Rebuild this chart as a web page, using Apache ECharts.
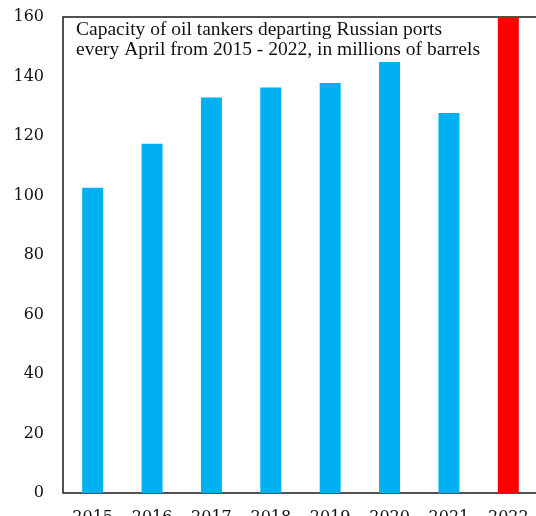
<!DOCTYPE html>
<html>
<head>
<meta charset="utf-8">
<script src="https://cdn.jsdelivr.net/npm/echarts@6/dist/echarts.min.js"></script>
<style>html,body{margin:0;padding:0;background:#fff;}#c{width:536px;height:516px;}</style>
</head>
<body>
<div id="c"></div>
<script>
var years = ['2015', '2016', '2017', '2018', '2019', '2020', '2021', '2022'];
var capacity = [102.6, 117.4, 132.9, 136.3, 137.8, 144.9, 127.7, 175];
var barColors = ['#00B0F0', '#00B0F0', '#00B0F0', '#00B0F0', '#00B0F0', '#00B0F0', '#00B0F0', '#FF0000'];
var noteLines = ['Capacity of oil tankers departing Russian ports', 'every April from 2015 - 2022, in millions of barrels'];

var chart = echarts.init(document.getElementById('c'), null, {renderer: 'canvas'});
chart.setOption({
  backgroundColor: '#ffffff',
  animation: false,
  grid: {
    left: 63, top: 17, width: 475, bottom: 23,
    containLabel: false, outerBoundsMode: 'none',
    show: true, borderColor: '#1a1a1a', borderWidth: 1.5, backgroundColor: 'transparent'
  },
  xAxis: {
    type: 'category',
    data: years,
    axisLine: {show: false},
    axisTick: {show: false},
    axisLabel: {color: '#111', fontFamily: 'DejaVu Serif', fontSize: 16, margin: 17, interval: 0}
  },
  yAxis: {
    type: 'value',
    min: 0, max: 160, interval: 20,
    axisLine: {show: false},
    axisTick: {show: false},
    splitLine: {show: false},
    axisLabel: {color: '#111', fontFamily: 'DejaVu Serif', fontSize: 16, margin: 19, padding: [4, 0, 0, 0]}
  },
  series: [{
    type: 'bar',
    barWidth: 21,
    clip: true,
    data: capacity.map(function (v, i) { return {value: v, itemStyle: {color: barColors[i]}}; })
  }],
  graphic: [{
    type: 'text',
    left: 76, top: 20,
    style: {
      text: noteLines.join('\n'),
      fontFamily: 'Liberation Serif',
      fontSize: 19.5,
      lineHeight: 20,
      fill: '#111'
    }
  }]
});
</script>
</body>
</html>
